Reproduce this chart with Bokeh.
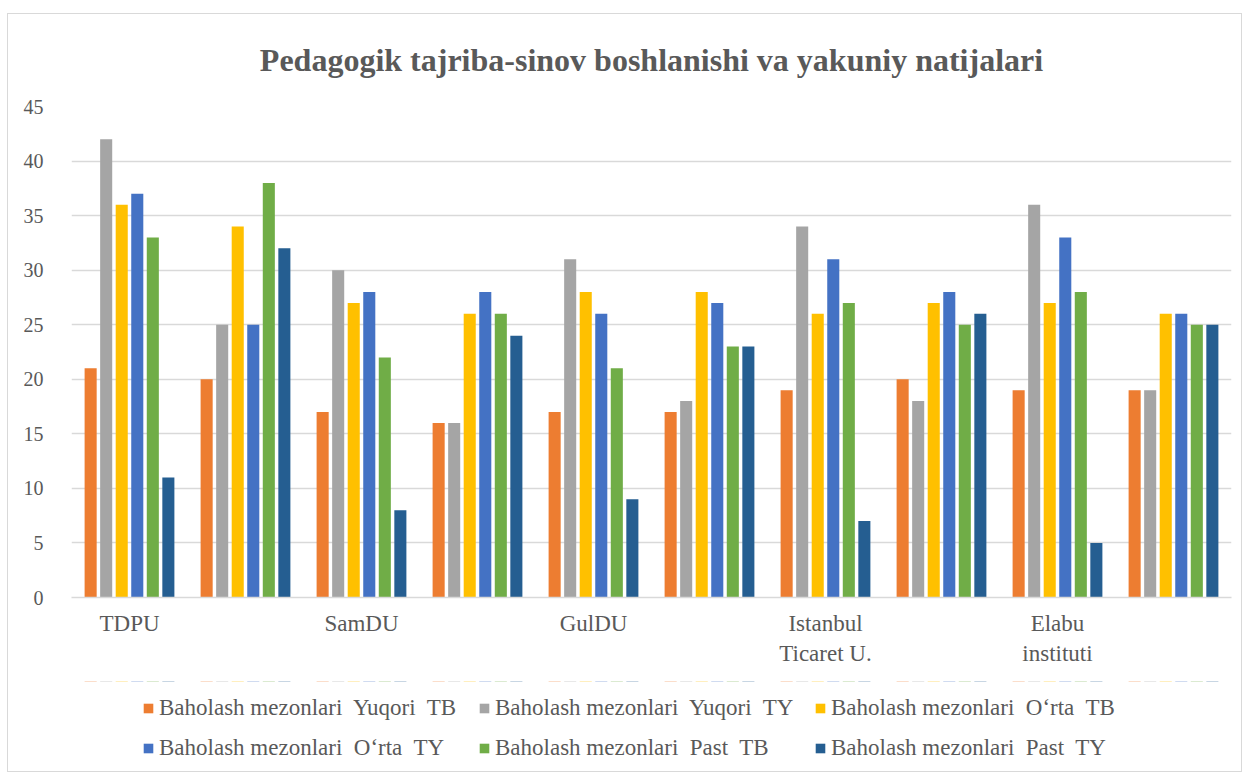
from bokeh.plotting import figure
from bokeh.models import Legend, LegendItem, FixedTicker, Title, Range1d
from bokeh.layouts import column
from bokeh.embed import file_html
from bokeh.resources import INLINE

# ---- data ----
group_labels = ["TDPU", "", "SamDU", "", "GulDU", "", "Istanbul\nTicaret U.", "", "Elabu\ninstituti", ""]
series_names = [
    "Baholash mezonlari  Yuqori  TB",
    "Baholash mezonlari  Yuqori  TY",
    "Baholash mezonlari  O\u2018rta  TB",
    "Baholash mezonlari  O\u2018rta  TY",
    "Baholash mezonlari  Past  TB",
    "Baholash mezonlari  Past  TY",
]
yuqori_tb = [21, 20, 17, 16, 17, 17, 19, 20, 19, 19]
yuqori_ty = [42, 25, 30, 16, 31, 18, 34, 18, 36, 19]
orta_tb = [36, 34, 27, 26, 28, 28, 26, 27, 27, 26]
orta_ty = [37, 25, 28, 28, 26, 27, 31, 28, 33, 26]
past_tb = [33, 38, 22, 26, 21, 23, 27, 25, 28, 25]
past_ty = [11, 32, 8, 24, 9, 23, 7, 26, 5, 25]
y_ticks = [0, 5, 10, 15, 20, 25, 30, 35, 40, 45]

series_values = [yuqori_tb, yuqori_ty, orta_tb, orta_ty, past_tb, past_ty]
colors = ["#ED7D31", "#A5A5A5", "#FFC000", "#4472C4", "#70AD47", "#255E91"]

FONT = "Liberation Serif"
TXT = "#595959"

n = len(group_labels)
p = figure(frame_width=1160, frame_height=491, output_backend="svg", toolbar_location=None,
           x_range=Range1d(0, n), y_range=Range1d(0, 45),
           min_border_left=63, min_border_right=10, min_border_top=91, min_border_bottom=84)

p.outline_line_color = None
p.border_fill_color = "white"
p.background_fill_color = "white"

step = 0.134
width = 0.104
for j, (name, vals, col) in enumerate(zip(series_names, series_values, colors)):
    xs = [i + 0.5 + (j - 2.5) * step for i in range(n)]
    p.vbar(x=xs, top=vals, width=width, bottom=0, fill_color=col, line_color=None)

# axes
p.xaxis.ticker = FixedTicker(ticks=[i + 0.5 for i in range(n) if group_labels[i]])
p.xaxis.major_label_overrides = {i + 0.5: group_labels[i] for i in range(n) if group_labels[i]}
p.xaxis.axis_line_color = "#d9d9d9"
p.xaxis.axis_line_width = 1.5
p.xaxis.major_tick_line_color = None
p.xaxis.minor_tick_line_color = None
p.xaxis.major_label_text_font = FONT
p.xaxis.major_label_text_font_size = "23px"
p.xaxis.major_label_text_color = TXT
p.xaxis.major_label_standoff = 7

p.yaxis.ticker = FixedTicker(ticks=y_ticks)
p.yaxis.axis_line_color = None
p.yaxis.major_tick_line_color = None
p.yaxis.minor_tick_line_color = None
p.yaxis.major_label_text_font = FONT
p.yaxis.major_label_text_font_size = "20px"
p.yaxis.major_label_text_color = TXT
p.yaxis.major_label_standoff = 22

p.xgrid.grid_line_color = None
p.ygrid.grid_line_color = "#d9d9d9"
p.ygrid.grid_line_width = 1.5

# title
t = Title(text="Pedagogik tajriba-sinov boshlanishi va yakuniy natijalari", align="center",
          text_font=FONT, text_font_size="32px", text_font_style="bold", text_color=TXT,
          standoff=54, offset=-17, vertical_align="top")
p.add_layout(t, "above")

# legend strip (a second figure holding only the legend; its bars lie far outside its view)
q = figure(width=1233, height=90, output_backend="svg", toolbar_location=None,
           x_axis_type=None, y_axis_type=None, x_range=Range1d(0, n), y_range=Range1d(-1000, -999),
           min_border_left=0, min_border_right=0, min_border_top=0, min_border_bottom=0)
q.outline_line_color = None
q.xgrid.grid_line_color = None
q.ygrid.grid_line_color = None
items = []
for j, (name, vals, col) in enumerate(zip(series_names, series_values, colors)):
    xs = [i + 0.5 + (j - 2.5) * step for i in range(n)]
    r = q.vbar(x=xs, top=vals, width=width, bottom=0, fill_color=col, line_color=None)
    items.append(LegendItem(label=name, renderers=[r]))

common = dict(orientation="horizontal", label_text_font=FONT, label_text_font_size="23px",
              label_text_color=TXT, glyph_width=12, glyph_height=12, label_standoff=5,
              label_width=305, label_height=26, spacing=14, border_line_color=None,
              background_fill_alpha=0, padding=0, margin=0)
legend1 = Legend(items=items[:3], location=(71, 50), **common)
legend2 = Legend(items=items[3:], location=(71, 10), **common)
q.add_layout(legend1, "center")
q.add_layout(legend2, "center")

layout = column(p, q, spacing=0)
layout.margin = (13, 0, 0, 7)
layout.styles = {"border": "1px solid #d9d9d9"}

open("out.html", "w").write(file_html(layout, INLINE))
